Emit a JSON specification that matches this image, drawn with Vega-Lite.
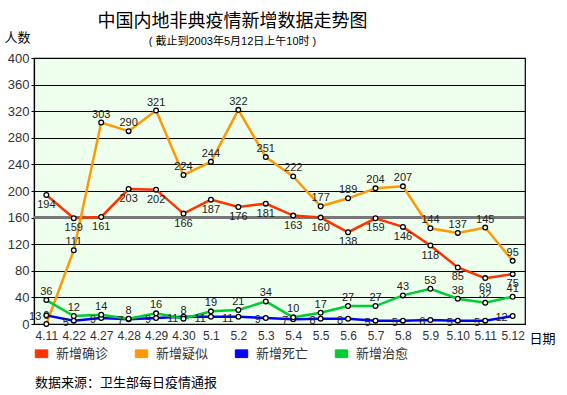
{
  "$schema": "https://vega.github.io/schema/vega-lite/v6.json",
  "width": 491,
  "height": 266,
  "autosize": {"type": "none"},
  "padding": {"left": 34, "top": 58, "right": 42, "bottom": 71},
  "background": "white",
  "title": {
    "text": "中国内地非典疫情新增数据走势图",
    "subtitle": "( 截止到2003年5月12日上午10时 )",
    "anchor": "middle",
    "dx": -47,
    "offset": -16,
    "font": "Noto Sans CJK SC",
    "fontSize": 18,
    "fontWeight": "normal",
    "color": "#000",
    "subtitleFont": "Liberation Sans, Noto Sans CJK SC",
    "subtitleFontSize": 11,
    "subtitleColor": "#000",
    "subtitlePadding": 5
  },
  "config": {
    "view": {"fill": "#EEFFEE", "stroke": "#000", "strokeWidth": 1.2},
    "font": "Liberation Sans, Noto Sans CJK SC"
  },
  "data": {
    "values": [
      {"date": "4.11", "series": "新增确诊", "value": 194},
      {"date": "4.22", "series": "新增确诊", "value": 159},
      {"date": "4.27", "series": "新增确诊", "value": 161},
      {"date": "4.28", "series": "新增确诊", "value": 203},
      {"date": "4.29", "series": "新增确诊", "value": 202},
      {"date": "4.30", "series": "新增确诊", "value": 166},
      {"date": "5.1", "series": "新增确诊", "value": 187},
      {"date": "5.2", "series": "新增确诊", "value": 176},
      {"date": "5.3", "series": "新增确诊", "value": 181},
      {"date": "5.4", "series": "新增确诊", "value": 163},
      {"date": "5.5", "series": "新增确诊", "value": 160},
      {"date": "5.6", "series": "新增确诊", "value": 138},
      {"date": "5.7", "series": "新增确诊", "value": 159},
      {"date": "5.8", "series": "新增确诊", "value": 146},
      {"date": "5.9", "series": "新增确诊", "value": 118},
      {"date": "5.10", "series": "新增确诊", "value": 85},
      {"date": "5.11", "series": "新增确诊", "value": 69},
      {"date": "5.12", "series": "新增确诊", "value": 75},
      {"date": "4.11", "series": "新增疑似", "value": 0},
      {"date": "4.22", "series": "新增疑似", "value": 111},
      {"date": "4.27", "series": "新增疑似", "value": 303},
      {"date": "4.28", "series": "新增疑似", "value": 290},
      {"date": "4.29", "series": "新增疑似", "value": 321},
      {"date": "4.30", "series": "新增疑似", "value": 224},
      {"date": "5.1", "series": "新增疑似", "value": 244},
      {"date": "5.2", "series": "新增疑似", "value": 322},
      {"date": "5.3", "series": "新增疑似", "value": 251},
      {"date": "5.4", "series": "新增疑似", "value": 222},
      {"date": "5.5", "series": "新增疑似", "value": 177},
      {"date": "5.6", "series": "新增疑似", "value": 189},
      {"date": "5.7", "series": "新增疑似", "value": 204},
      {"date": "5.8", "series": "新增疑似", "value": 207},
      {"date": "5.9", "series": "新增疑似", "value": 144},
      {"date": "5.10", "series": "新增疑似", "value": 137},
      {"date": "5.11", "series": "新增疑似", "value": 145},
      {"date": "5.12", "series": "新增疑似", "value": 95},
      {"date": "4.11", "series": "新增死亡", "value": 13},
      {"date": "4.22", "series": "新增死亡", "value": 5},
      {"date": "4.27", "series": "新增死亡", "value": 9},
      {"date": "4.28", "series": "新增死亡", "value": 7},
      {"date": "4.29", "series": "新增死亡", "value": 9},
      {"date": "4.30", "series": "新增死亡", "value": 11},
      {"date": "5.1", "series": "新增死亡", "value": 11},
      {"date": "5.2", "series": "新增死亡", "value": 11},
      {"date": "5.3", "series": "新增死亡", "value": 9},
      {"date": "5.4", "series": "新增死亡", "value": 7},
      {"date": "5.5", "series": "新增死亡", "value": 8},
      {"date": "5.6", "series": "新增死亡", "value": 8},
      {"date": "5.7", "series": "新增死亡", "value": 5},
      {"date": "5.8", "series": "新增死亡", "value": 5},
      {"date": "5.9", "series": "新增死亡", "value": 6},
      {"date": "5.10", "series": "新增死亡", "value": 5},
      {"date": "5.11", "series": "新增死亡", "value": 5},
      {"date": "5.12", "series": "新增死亡", "value": 12},
      {"date": "4.11", "series": "新增治愈", "value": 36},
      {"date": "4.22", "series": "新增治愈", "value": 12},
      {"date": "4.27", "series": "新增治愈", "value": 14},
      {"date": "4.28", "series": "新增治愈", "value": 8},
      {"date": "4.29", "series": "新增治愈", "value": 16},
      {"date": "4.30", "series": "新增治愈", "value": 8},
      {"date": "5.1", "series": "新增治愈", "value": 19},
      {"date": "5.2", "series": "新增治愈", "value": 21},
      {"date": "5.3", "series": "新增治愈", "value": 34},
      {"date": "5.4", "series": "新增治愈", "value": 10},
      {"date": "5.5", "series": "新增治愈", "value": 17},
      {"date": "5.6", "series": "新增治愈", "value": 27},
      {"date": "5.7", "series": "新增治愈", "value": 27},
      {"date": "5.8", "series": "新增治愈", "value": 43},
      {"date": "5.9", "series": "新增治愈", "value": 53},
      {"date": "5.10", "series": "新增治愈", "value": 38},
      {"date": "5.11", "series": "新增治愈", "value": 32},
      {"date": "5.12", "series": "新增治愈", "value": 41}
    ]
  },
  "encoding": {
    "x": {
      "field": "date",
      "type": "ordinal",
      "sort": null,
      "scale": {"type": "point", "padding": 0.45},
      "axis": {
        "title": "日期",
        "titleX": 508,
        "titleY": 14,
        "titleAlign": "center",
        "titleBaseline": "middle",
        "titleFont": "Noto Sans CJK SC",
        "titleFontSize": 13,
        "titleFontWeight": "normal",
        "titleColor": "#000",
        "labelAngle": 0,
        "labelFontSize": 12,
        "labelColor": "#333",
        "labelPadding": 6,
        "ticks": false,
        "domain": true,
        "domainColor": "#000",
        "domainWidth": 1.2,
        "grid": false
      }
    },
    "y": {
      "field": "value",
      "type": "quantitative",
      "scale": {"domain": [0, 400], "nice": false},
      "axis": {
        "title": "人数",
        "titleAngle": 0,
        "titleX": -17,
        "titleY": -21,
        "titleAlign": "center",
        "titleBaseline": "middle",
        "titleFont": "Noto Sans CJK SC",
        "titleFontSize": 13,
        "titleFontWeight": "normal",
        "titleColor": "#000",
        "values": [0, 40, 80, 120, 160, 200, 240, 280, 320, 360, 400],
        "labelFontSize": 13,
        "labelColor": "#333",
        "labelPadding": 2,
        "tickSize": 3,
        "tickColor": "#000",
        "domainColor": "#000",
        "domainWidth": 1.2,
        "grid": true,
        "gridColor": "#000",
        "gridWidth": 1.2,
        "gridOpacity": 1
      }
    }
  },
  "layer": [
    {
      "mark": {"type": "rule", "color": "#777", "strokeWidth": 2.5},
      "encoding": {"y": {"datum": 160}, "x": null}
    },
    {
      "mark": {"type": "line", "strokeWidth": 2.5},
      "encoding": {
        "color": {
          "field": "series",
          "type": "nominal",
          "scale": {
            "domain": ["新增确诊", "新增疑似", "新增死亡", "新增治愈"],
            "range": ["#FF3300", "#FF9900", "#0000FF", "#00CC33"]
          },
          "legend": {
            "title": "数据来源：卫生部每日疫情通报",
            "titleOrient": "bottom",
            "titleFont": "Noto Sans CJK SC",
            "titleFontSize": 13,
            "titleFontWeight": "normal",
            "titleColor": "#000",
            "titleLimit": 400,
            "titlePadding": 16,
            "orient": "none",
            "legendX": 1,
            "legendY": 289,
            "direction": "horizontal",
            "columns": 4,
            "columnPadding": 24,
            "symbolType": "M-1.6,-1L1.6,-1L1.6,1L-1.6,1Z",
            "symbolSize": 60,
            "symbolStrokeWidth": 1,
            "labelFont": "Noto Sans CJK SC",
            "labelFontSize": 13,
            "labelColor": "#333",
            "labelOffset": 8,
            "encode": {
              "symbols": {
                "update": {
                  "fill": {"scale": "color", "field": "value"},
                  "stroke": {"value": "#000"},
                  "fillOpacity": {"value": 1}
                }
              }
            }
          }
        }
      }
    },
    {
      "mark": {"type": "point", "filled": true, "fill": "white", "stroke": "#000", "strokeWidth": 1.3, "size": 22, "opacity": 1},
      "encoding": {"detail": {"field": "series"}}
    },
    {
      "transform": [{"filter": "datum.series === '新增疑似' || datum.series === '新增治愈'"}],
      "mark": {"type": "text", "dy": -8, "fontSize": 11, "color": "#222"},
      "encoding": {"text": {"field": "value"}}
    },
    {
      "transform": [{"filter": "datum.series === '新增死亡'"}],
      "mark": {"type": "text", "dx": -5, "dy": 2, "align": "right", "fontSize": 11, "color": "#222"},
      "encoding": {"text": {"field": "value"}}
    },
    {
      "transform": [{"filter": "datum.series === '新增确诊'"}],
      "mark": {"type": "text", "dy": 10, "fontSize": 11, "color": "#222"},
      "encoding": {"text": {"field": "value"}}
    }
  ]
}
